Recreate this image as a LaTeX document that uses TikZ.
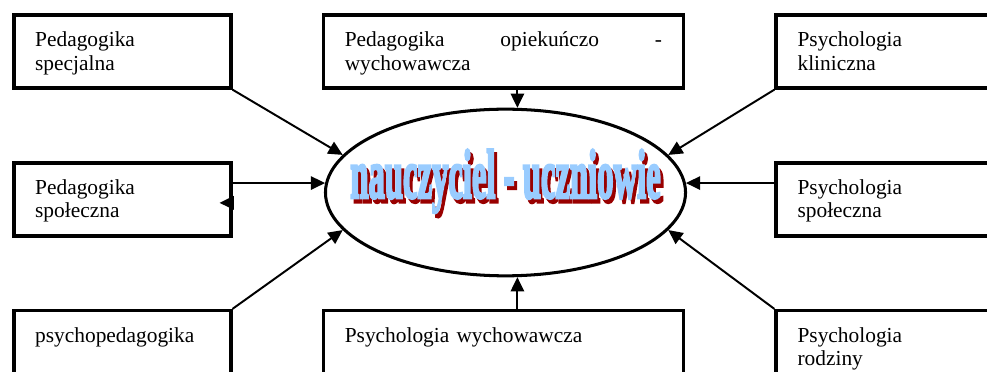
\documentclass[tikz,border=0pt]{standalone}
\usepackage{fontspec}
\setmainfont{Liberation Serif}
\newfontfamily\artfont{Liberation Serif Bold}[FakeBold=4.5]
\usepackage{graphicx}
\usetikzlibrary{positioning,arrows.meta}
\usetikzlibrary{shapes.geometric}
\definecolor{wordblue}{RGB}{153,204,255}
\definecolor{wordred}{RGB}{153,0,0}
\tikzset{
     arrow/.style={-{Triangle[length=8pt,width=7.5pt]},line width=1.1pt},
     box/.style={rectangle,draw,line width=2pt,align=left,inner xsep=12pt,inner ysep=5pt,text height=13pt,text depth=18pt,minimum height=41pt,font=\fontsize{12}{13}\selectfont},
     sidebox/.style={box,minimum width=121.7pt,text width=97.7pt},
     midbox/.style={box,minimum width=202pt,text width=178pt}
     }
\newcommand\wordart[1]{\makebox[0pt]{\makebox[0pt]{\hspace*{3.4pt}\raisebox{-2.3pt}{\color{wordred}#1}}\makebox[0pt]{\color{wordblue}#1}}}

\begin{document}
\begin{tikzpicture}[x=0.561pt,y=-0.561pt,node distance=40pt and 50pt]
            \useasboundingbox (0,0) rectangle (987,372);
            % Place nodes
            \node[ellipse,draw,line width=1.7pt,minimum width=202pt,minimum height=93.5pt,inner sep=0pt] (el) at (505.5,192.5) {\raisebox{-3pt}[0pt][0pt]{\wordart{\artfont\fontsize{39}{39}\selectfont\scalebox{0.47}[1]{nauczyciel - uczniowie}}}};
            \node[sidebox,anchor=north west] (tl) at (12,13) {Pedagogika\\specjalna};
            \node[midbox] [right=of tl] (tm) {Pedagogika\hfill opiekuńczo\hfill -\\wychowawcza};
            \node[sidebox] [right=of tm] (tr) {Psychologia\\kliniczna};
            \node[sidebox] [below=of tl] (ml) {Pedagogika\\społeczna};
            \node[sidebox] [below=of tr] (mr) {Psychologia\\społeczna};
            \node[sidebox] [below=of ml] (bl) {psychopedagogika};
            \node[midbox] [right=of bl] (bm) {Psychologia wychowawcza};
            \node[sidebox] [right=of bm] (br) {Psychologia\\rodziny};
            % Draw edges
            \draw[arrow] (tl.south east) -- (el.167);
            \draw[arrow] (el.82 |- tm.south) -- (el.82);
            \draw[arrow] (tr.south west) -- (el.13);
            \draw[arrow] (ml.east |- el.177) -- (el.177);
            \draw[arrow] ([yshift=-2pt]ml.east) -- ++(-13,0);
            \draw[arrow] (mr.west |- el.3) -- (el.3);
            \draw[arrow] (bl.north east) -- (el.193);
            \draw[arrow] (el.278 |- bm.north) -- (el.278);
            \draw[arrow] (br.north west) -- (el.-13);
        \end{tikzpicture}
\end{document}
